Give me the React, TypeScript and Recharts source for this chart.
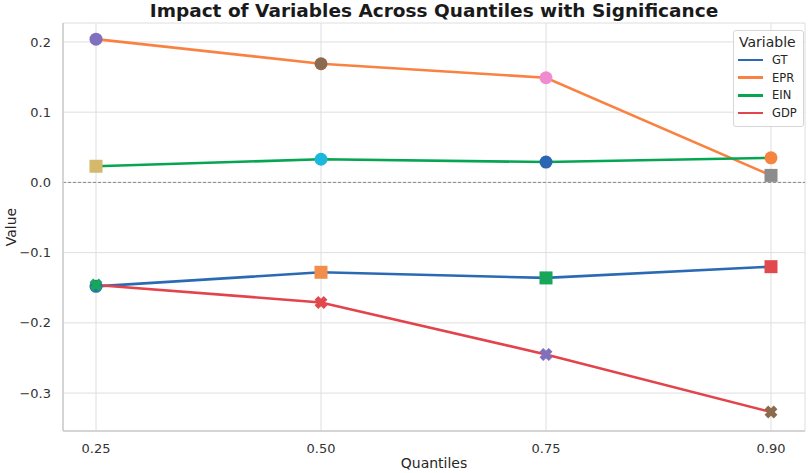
import React from "react";
import {
  LineChart,
  Line,
  XAxis,
  YAxis,
  CartesianGrid,
  ReferenceLine,
} from "recharts";

const quantiles = ["0.25", "0.50", "0.75", "0.90"];

const gt = [-0.148, -0.128, -0.136, -0.12];
const epr = [0.204, 0.169, 0.149, 0.01];
const ein = [0.023, 0.033, 0.029, 0.035];
const gdp = [-0.146, -0.171, -0.245, -0.327];

// marker colour / shape per point (significance scatter)
const gtMarkColors = ["#2f6cb5", "#f28e4c", "#17a65a", "#e04a4f"];
const eprMarkColors = ["#8170bd", "#8c6a4d", "#f08bd0", "#8c8c8c"];
const einMarkColors = ["#d4b96c", "#1cb8dc", "#2a66b1", "#f5843f"];
const gdpMarkColors = ["#17a65a", "#e04a4f", "#8170bd", "#8c6a4d"];

const gtShapes = ["circle", "square", "square", "square"];
const eprShapes = ["circle", "circle", "circle", "square"];
const einShapes = ["square", "circle", "circle", "circle"];
const gdpShapes = ["x", "x", "x", "x"];

const yTicks = [-0.3, -0.2, -0.1, 0, 0.1, 0.2];

const series = [
  { key: "GT", values: gt, color: "#2a6ab4", marks: gtMarkColors, shapes: gtShapes },
  { key: "EPR", values: epr, color: "#f98242", marks: eprMarkColors, shapes: eprShapes },
  { key: "EIN", values: ein, color: "#05a552", marks: einMarkColors, shapes: einShapes },
  { key: "GDP", values: gdp, color: "#e3434a", marks: gdpMarkColors, shapes: gdpShapes },
];

const rows = quantiles.map((q, i) => {
  const row: any = { q };
  series.forEach((s) => (row[s.key] = s.values[i]));
  return row;
});

function Marker({ cx, cy, shape, color }: any) {
  if (cx == null || cy == null) return null;
  if (shape === "circle") return <circle cx={cx} cy={cy} r={6.5} fill={color} />;
  if (shape === "square")
    return <rect x={cx - 6.5} y={cy - 6.5} width={13} height={13} fill={color} />;
  const a = 6.5;
  const w = 2.6;
  return (
    <g fill={color} transform={`translate(${cx},${cy}) rotate(45)`}>
      <rect x={-a} y={-w} width={a * 2} height={w * 2} />
      <rect x={-w} y={-a} width={w * 2} height={a * 2} />
    </g>
  );
}

const fmt = (v: number) => v.toFixed(1).replace("-", "\u2212");

function LegendBox() {
  return (
    <div
      style={{
        position: "absolute",
        top: 30,
        left: 733,
        background: "rgba(255,255,255,0.85)",
        border: "1px solid #d6d6d6",
        borderRadius: 3,
        padding: "3px 6px 4px 4px",
        fontFamily: "DejaVu Sans",
        color: "#262626",
      }}
    >
      <div style={{ fontSize: 14, textAlign: "center", marginBottom: 1 }}>Variable</div>
      {series.map((s) => (
        <div key={s.key} style={{ display: "flex", alignItems: "center", height: 17.7, fontSize: 11.5 }}>
          <div style={{ width: 25, height: 2.6, background: s.color, marginRight: 9 }} />
          <span>{s.key}</span>
        </div>
      ))}
    </div>
  );
}

export default function App() {
  return (
    <div style={{ position: "absolute", left: 0, top: 0, width: 809, height: 473, background: "#fff" }}>
      <LineChart
        width={809}
        height={473}
        data={rows}
        margin={{ top: 23, right: 4, bottom: 0, left: 0 }}
        style={{ fontFamily: "DejaVu Sans" }}
      >
        <CartesianGrid stroke="#dedede" strokeWidth={1} />
        <XAxis
          dataKey="q"
          height={42}
          padding={{ left: 33, right: 34 }}
          tick={{ fill: "#333", fontSize: 13 }}
          tickLine={false}
          tickSize={11}
          axisLine={{ stroke: "#cccccc", strokeWidth: 1.5 }}
          label={{ value: "Quantiles", position: "insideBottom", offset: 5, fill: "#262626", fontSize: 14 }}
        />
        <XAxis
          xAxisId="top"
          dataKey="q"
          orientation="top"
          height={0}
          tick={false}
          tickLine={false}
          axisLine={{ stroke: "#cccccc", strokeWidth: 1.5 }}
        />
        <YAxis
          width={63}
          domain={[-0.354, 0.227]}
          ticks={yTicks}
          tickFormatter={fmt}
          tick={{ fill: "#333", fontSize: 13 }}
          tickLine={false}
          tickSize={10}
          axisLine={{ stroke: "#cccccc", strokeWidth: 1.5 }}
          allowDataOverflow
        />
        <YAxis
          yAxisId="right"
          orientation="right"
          width={0}
          domain={[-0.354, 0.227]}
          tick={false}
          tickLine={false}
          axisLine={{ stroke: "#cccccc", strokeWidth: 1.5 }}
        />
        <ReferenceLine y={0} stroke="#8a8a8a" strokeDasharray="3 2" strokeWidth={1} />
        {series.map((s) => (
          <Line
            key={s.key}
            dataKey={s.key}
            type="linear"
            stroke={s.color}
            strokeWidth={2.6}
            isAnimationActive={false}
            dot={(p: any) => (
              <Marker
                key={`${s.key}-${p.index}`}
                cx={p.cx}
                cy={p.cy}
                shape={s.shapes[p.index]}
                color={s.marks[p.index]}
              />
            )}
            activeDot={false}
          />
        ))}
      </LineChart>
      <div
        style={{
          position: "absolute",
          left: 63,
          width: 742,
          top: 0,
          textAlign: "center",
          fontFamily: "DejaVu Sans",
          fontWeight: "bold",
          fontSize: 18.5,
          color: "#1a1a1a",
          lineHeight: "22px",
        }}
      >
        Impact of Variables Across Quantiles with Significance
      </div>
      <div
        style={{
          position: "absolute",
          left: 11,
          top: 227,
          transform: "translate(-50%, -50%) rotate(-90deg)",
          fontFamily: "DejaVu Sans",
          fontSize: 14,
          color: "#262626",
          whiteSpace: "nowrap",
        }}
      >
        Value
      </div>
      <LegendBox />
    </div>
  );
}
